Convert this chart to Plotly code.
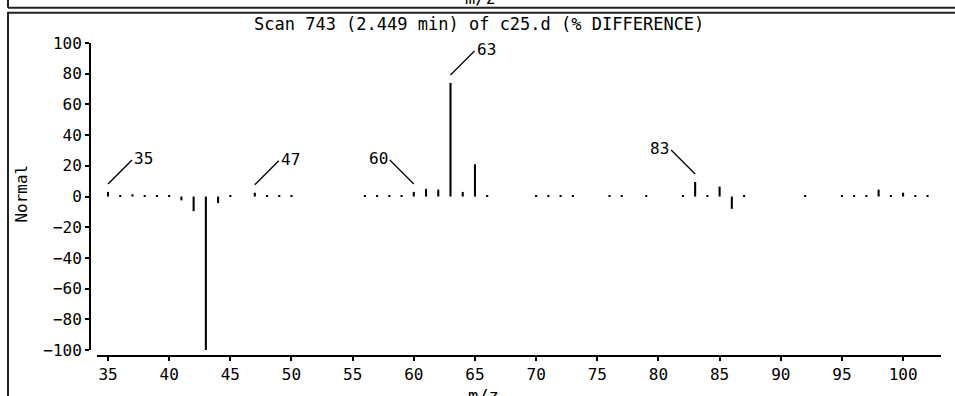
import plotly.graph_objects as go

# m/z values and % difference intensities
mz = [35, 36, 37, 38, 39, 40, 41, 42, 43, 44, 45, 47, 48, 49, 50,
      56, 57, 58, 59, 60, 61, 62, 63, 64, 65, 66,
      70, 71, 72, 73, 76, 77, 79, 82, 83, 84, 85, 86, 87,
      92, 95, 96, 97, 98, 99, 100, 101, 102]
diff = [3, 1, 1.5, 1, 1, 1, -2.5, -9.5, -100, -4.3, 1, 2.5, 1, 1, 1,
        1, 1, 1, 1, 3, 5, 4.5, 74, 3, 21, 1,
        1, 1, 1, 1, 1, 1, 1, 1, 9.5, 1, 6.5, -8, 1,
        1, 1, 1, 1, 4.5, 1, 2.5, 1, 1]

# labelled peaks and side of label (+1 right, -1 left)
label_mz = [35, 47, 60, 63, 83]
label_side = [1, 1, -1, 1, -1]

x_ticks = list(range(35, 101, 5))
y_ticks = list(range(-100, 101, 20))

title_text = "Scan 743 (2.449 min) of c25.d (% DIFFERENCE)"
x_title = "m/z"
y_title = "Normal"

FONT = "DejaVu Sans Mono"
FS = 16

fig = go.Figure(go.Bar(x=mz, y=diff, width=0.17, marker_color="black",
                       marker_line_width=0, hoverinfo="x+y"))

W, H = 955, 396
L, R, T, B = 90, 14, 43, 37
pw, ph = W - L - R, H - T - B


def P(px):
    return (px - L) / pw


def Q(py):
    return (H - B - py) / ph


shapes = []
annotations = []
val_of = dict(zip(mz, diff))
for m, side in zip(label_mz, label_side):
    v = val_of[m]
    shapes.append(dict(type="line", xref="x", yref="y",
                       xsizemode="pixel", xanchor=m, x0=0, x1=24 * side,
                       ysizemode="pixel", yanchor=v, y0=8, y1=32,
                       line=dict(color="black", width=1.3)))
    annotations.append(dict(x=m, y=v, xref="x", yref="y", text=str(m),
                            showarrow=False,
                            xanchor="left" if side > 0 else "right",
                            yanchor="middle", xshift=24 * side, yshift=33,
                            font=dict(family=FONT, size=FS, color="black")))

# panel frames
shapes.append(dict(type="rect", xref="paper", yref="paper",
                   x0=P(8), x1=P(975), y0=Q(430), y1=Q(12.5),
                   line=dict(color="#222", width=2)))
shapes.append(dict(type="line", xref="paper", yref="paper",
                   x0=P(8), x1=P(975), y0=Q(7.5), y1=Q(7.5),
                   line=dict(color="#222", width=2)))
shapes.append(dict(type="line", xref="paper", yref="paper",
                   x0=P(8), x1=P(8), y0=Q(7.5), y1=Q(-20),
                   line=dict(color="#222", width=2)))

annotations += [
    dict(x=P(479), y=Q(24), xref="paper", yref="paper", text=title_text,
         showarrow=False, xanchor="center", yanchor="middle",
         font=dict(family=FONT, size=17, color="black")),
    dict(x=P(480), y=Q(10), xref="paper", yref="paper", text=x_title,
         showarrow=False, xanchor="center", yanchor="bottom",
         font=dict(family=FONT, size=17, color="black")),
    dict(x=P(483), y=Q(399), xref="paper", yref="paper", text=x_title,
         showarrow=False, xanchor="center", yanchor="middle",
         font=dict(family=FONT, size=17, color="black")),
    dict(x=P(22), y=Q(195), xref="paper", yref="paper", text=y_title,
         showarrow=False, xanchor="center", yanchor="middle", textangle=-90,
         font=dict(family=FONT, size=FS, color="black")),
]

fig.update_layout(
    width=W, height=H,
    margin=dict(l=L, r=R, t=T, b=B, pad=0),
    paper_bgcolor="white", plot_bgcolor="white",
    showlegend=False,
    shapes=shapes, annotations=annotations,
    xaxis=dict(domain=[7 / pw, 1], anchor="free", position=0,
               range=[34.1, 103.1], tickvals=x_ticks,
               ticks="outside", ticklen=4, tickwidth=1.5, tickcolor="black",
               showline=True, linecolor="black", linewidth=2,
               showgrid=False, zeroline=False,
               tickfont=dict(family=FONT, size=FS, color="black")),
    yaxis=dict(domain=[6 / ph, 1], anchor="free", position=0,
               range=[-100, 100], tickvals=y_ticks,
               ticks="outside", ticklen=4, tickwidth=1.5, tickcolor="black",
               showline=True, linecolor="black", linewidth=2,
               showgrid=False, zeroline=False,
               tickfont=dict(family=FONT, size=FS, color="black")),
)

fig.write_html("out.html", config={"displayModeBar": False},
               post_script="document.body.style.margin='0';"
                           "document.body.style.overflow='hidden';")
